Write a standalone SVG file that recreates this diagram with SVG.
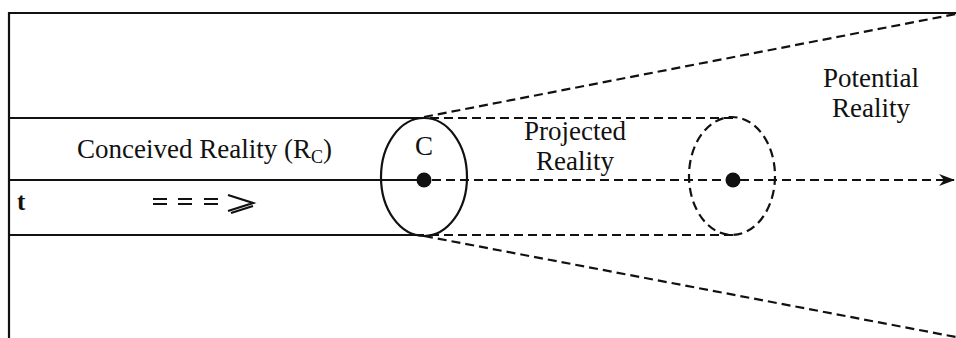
<svg xmlns="http://www.w3.org/2000/svg" width="956" height="338" viewBox="0 0 956 338">
<style>
.solid{stroke:#111;stroke-width:2.2;fill:none}
.dash{stroke:#111;stroke-width:2.2;fill:none;stroke-dasharray:9 5}
.lbl{font-family:'Liberation Serif','Times New Roman',serif;font-size:27px;fill:#111}
.dot{fill:#111}
</style>
<defs>
<marker id="ah" markerWidth="16" markerHeight="12" refX="15" refY="6" orient="auto" markerUnits="userSpaceOnUse">
<path d="M0,0 L16,6 L0,12 L5,6 Z" fill="#111"/>
</marker>
</defs>
<rect width="956" height="338" fill="#fff"/>
<g id="frame">
<line class="solid" x1="8" y1="13" x2="956" y2="13"/>
<line class="solid" x1="9" y1="12" x2="9" y2="338"/>
</g>
<g id="connectors">
<line class="solid" x1="9" y1="118" x2="424" y2="118"/>
<line class="solid" x1="9" y1="180" x2="424" y2="180"/>
<line class="solid" x1="9" y1="235" x2="424" y2="235"/>
<line class="dash" x1="430" y1="118" x2="733" y2="118"/>
<line class="dash" x1="430" y1="235" x2="733" y2="235"/>
<line class="dash" x1="424" y1="117" x2="956" y2="14"/>
<line class="dash" x1="424" y1="236" x2="956" y2="337"/>
<line class="dash" x1="432" y1="180" x2="954" y2="180" marker-end="url(#ah)"/>
</g>
<g id="node-C">
<ellipse class="solid" cx="424" cy="177" rx="43" ry="59"/>
<circle class="dot" cx="424" cy="180" r="7.5"/>
<text class="lbl" x="424" y="155" text-anchor="middle" font-size="25">C</text>
</g>
<g id="node-projected">
<ellipse class="dash" cx="732" cy="176" rx="43" ry="59"/>
<circle class="dot" cx="733" cy="180" r="7.5"/>
</g>
<g id="label-conceived">
<text class="lbl" x="77" y="158">Conceived Reality (R<tspan font-size="18" dy="5">C</tspan><tspan dy="-5">)</tspan></text>
</g>
<g id="label-t">
<text x="17" y="210" font-family="'Liberation Serif', serif" font-weight="bold" font-size="25" fill="#111">t</text>
</g>
<g id="time-arrow">
<path class="solid" stroke-width="1.8" d="M153,199 H167 M153,204 H167 M178,199 H192 M178,204 H192 M204,199 H218 M204,204 H218"/>
<path class="solid" stroke-width="2.2" d="M228,195 L253,203 L228,211 M231,213 L253,206"/>
</g>
<g id="label-projected">
<text class="lbl" x="575" y="140" text-anchor="middle">Projected</text>
<text class="lbl" x="575" y="170" text-anchor="middle">Reality</text>
</g>
<g id="label-potential">
<text class="lbl" x="871" y="87" text-anchor="middle">Potential</text>
<text class="lbl" x="871" y="117" text-anchor="middle">Reality</text>
</g>
</svg>
